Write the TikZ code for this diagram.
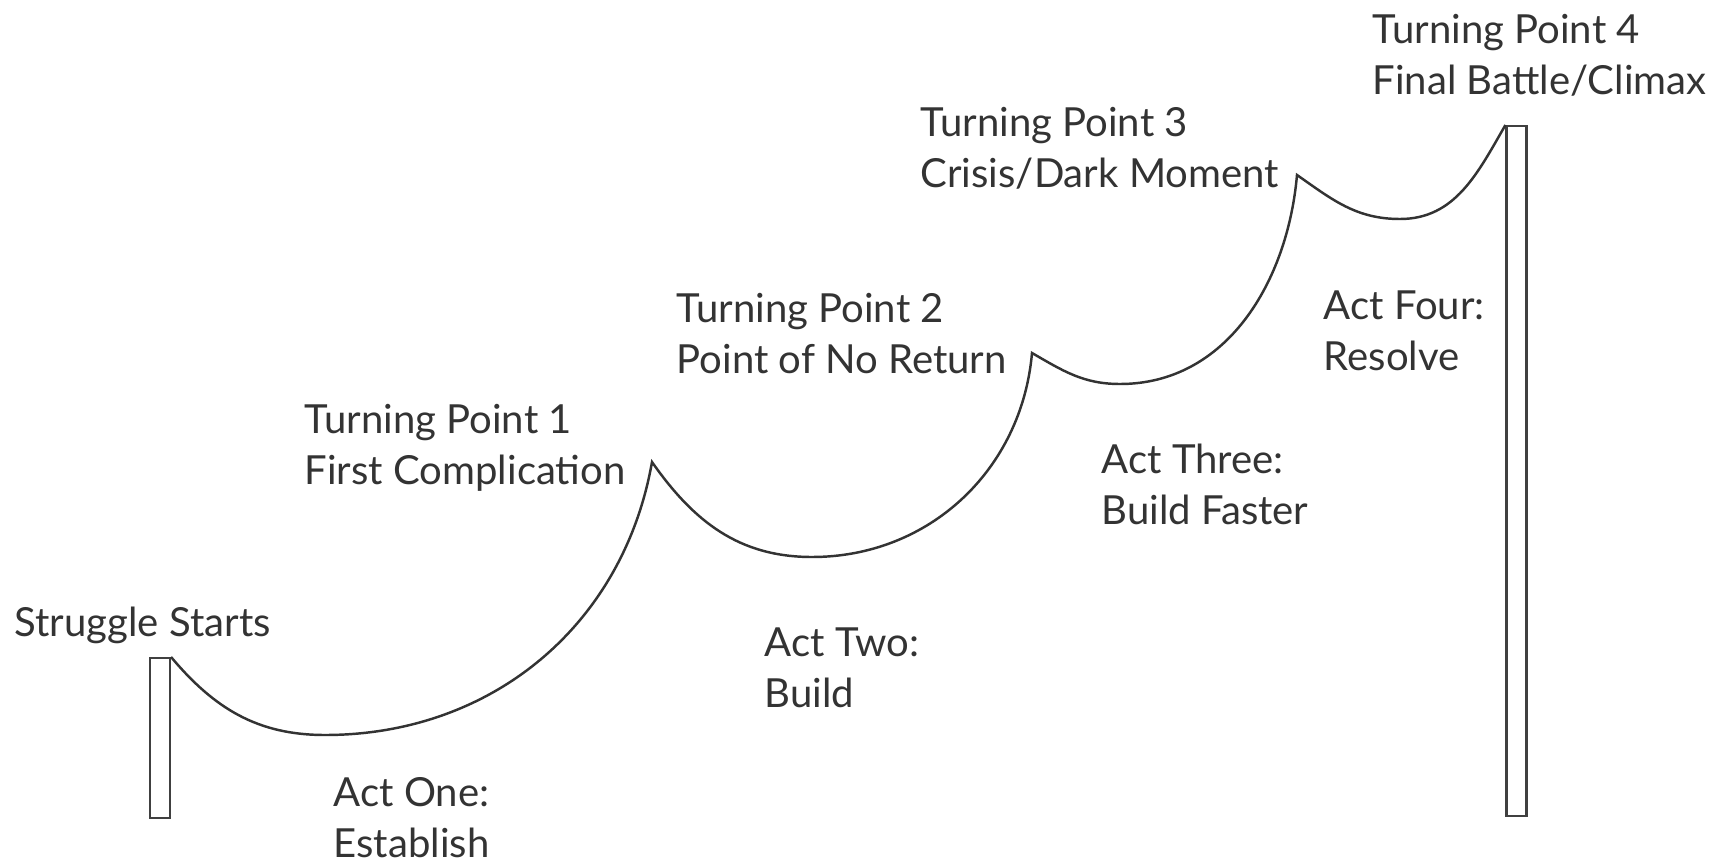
\documentclass[tikz,border=0pt]{standalone}
\usepackage{fontspec}
\setmainfont{Lato}
\usepackage{tikz}

\tikzset{
  beat/.style={anchor=base west, align=left, inner sep=0pt, text=black!80,
    font=\fontsize{11.4}{14.46}\selectfont},
  post/.style={draw=black!75, line width=0.6pt, minimum width=0.2cm, inner sep=0pt, anchor=north},
  storyline/.style={draw=black!80, line width=0.7pt}
}

\begin{document}
\begin{tikzpicture}
            \useasboundingbox (0,0) rectangle (17.31,8.65);

            \node[post, minimum height=1.60cm] (startpost) at (1.60, 2.08) {};
            \node[post, minimum height=6.90cm] (endpost) at (15.165, 7.40) {};

            \coordinate (low1) at (3.25, 1.30);
            \coordinate (cusp1) at (6.52, 4.03);
            \coordinate (low2) at (8.12, 3.08);
            \coordinate (cusp2) at (10.32, 5.12);
            \coordinate (low3) at (11.20, 4.81);
            \coordinate (cusp3) at (12.97, 6.90);
            \coordinate (low4) at (14.00, 6.46);

            % two-line labels sit on the baseline of their last line
            \node[beat] (struggle) at (0.14, 2.29) {Struggle Starts};
            \node[beat] (tp1) at (3.04, 3.81) {Turning Point 1\\First Complication};
            \node[beat] (tp2) at (6.76, 4.92) {Turning Point 2\\Point of No Return};
            \node[beat] (tp3) at (9.20, 6.78) {Turning Point 3\\Crisis/Dark Moment};
            \node[beat] (tp4) at (13.72, 7.71) {Turning Point 4\\Final Battle/Climax};

            \node[beat] (actone) at (3.33, 0.08) {Act One:\\Establish};
            \node[beat] (acttwo) at (7.64, 1.58) {Act Two:\\Build};
            \node[beat] (actthree) at (11.01, 3.41) {Act Three:\\Build Faster};
            \node[beat] (actfour) at (13.23, 4.95) {Act Four:\\Resolve};

            \draw[storyline] (startpost.north east) to[out=-50, in=180] (low1)
              to[out=0, in=-100] (cusp1) to[out=-55, in=180] (low2)
              to[out=0, in=-95] (cusp2) to[out=-30, in=180] (low3)
              to[out=0, in=-95] (cusp3) to[out=-35, in=180] (low4)
              to[out=0, in=-120] (endpost.north west);
        \end{tikzpicture}
\end{document}
